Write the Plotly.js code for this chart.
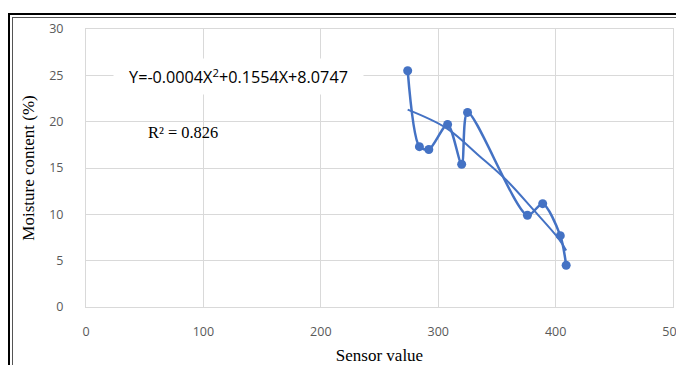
<!DOCTYPE html>
<html>
<head>
<meta charset="utf-8">
<script src="https://cdn.plot.ly/plotly-3.0.1.min.js"></script>
<style>
html,body{margin:0;padding:0;background:#fff;}
#wrap{position:relative;width:676px;height:365px;overflow:hidden;}
#chart{position:absolute;left:0;top:0;width:676px;height:365px;}
.fr{position:absolute;background:#000;}
</style>
</head>
<body>
<div id="wrap">
<div id="chart"></div>
<div class="fr" style="left:8px;top:13px;width:668px;height:2px;"></div>
<div class="fr" style="left:12px;top:17px;width:664px;height:1px;background:#555;"></div>
<div class="fr" style="left:8px;top:13px;width:2px;height:352px;"></div>
<div class="fr" style="left:12px;top:17px;width:1px;height:348px;background:#555;"></div>
</div>
<script>
// Measured data (sensor value vs moisture content %)
var sensorValues = [274, 284, 292, 308, 320, 325, 376, 389, 404, 409];
var moisture = [25.5, 17.3, 17.0, 19.7, 15.4, 21.0, 9.9, 11.15, 7.7, 4.5];

// Polynomial trendline
var trendX = [274, 307, 335, 358, 381, 403, 409];
var trendY = [21.3, 19.3, 16.3, 13.7, 10.5, 7.3, 6.1];

var xTicks = [0, 100, 200, 300, 400, 500];
var yTicks = [0, 5, 10, 15, 20, 25, 30];

var equationText = 'Y=-0.0004X<sup>2</sup>+0.1554X+8.0747';
var r2Text = 'R\u00B2 = 0.826';
var xTitle = 'Sensor value';
var yTitle = 'Moisture content (%)';

var blue = '#4472C4';

var traces = [
  {
    x: sensorValues, y: moisture, type: 'scatter', mode: 'lines+markers',
    line: {color: blue, width: 2.5, shape: 'spline', smoothing: 0.8},
    marker: {color: blue, size: 9},
    hoverinfo: 'skip', showlegend: false
  },
  {
    x: trendX, y: trendY, type: 'scatter', mode: 'lines',
    line: {color: blue, width: 2, shape: 'spline'},
    hoverinfo: 'skip', showlegend: false
  }
];

var tickFont = {family: 'Open Sans, Liberation Sans, sans-serif', size: 12.5, color: '#595959'};
var serif = 'Liberation Serif, Times New Roman, serif';

var L = 86, T = 29, B = 58, W = 676, H = 365;
var plotW = W - L - 3, plotH = H - T - B;
function px2x(px) { return (px - L) / plotW; }
function px2y(py) { return (H - B - py) / plotH; }

var layout = {
  width: W, height: H,
  margin: {l: L, r: 3, t: T, b: B},
  paper_bgcolor: '#fff', plot_bgcolor: '#fff',
  showlegend: false,
  xaxis: {
    range: [0, 500], tickvals: xTicks, ticktext: xTicks.map(String),
    showgrid: true, gridcolor: '#d9d9d9', gridwidth: 1,
    zeroline: false, showline: true, linecolor: '#d9d9d9', mirror: true,
    ticks: '', tickfont: tickFont, ticklabelstandoff: 13, automargin: false,
    ticklabeloverflow: 'allow',
    title: {text: xTitle, font: {family: serif, size: 17, color: '#000'}, standoff: 11}
  },
  yaxis: {
    range: [0, 30], tickvals: yTicks, ticktext: yTicks.map(String),
    showgrid: true, gridcolor: '#d9d9d9', gridwidth: 1,
    zeroline: false, showline: true, linecolor: '#d9d9d9', mirror: true,
    ticks: '', tickfont: tickFont, ticklabelstandoff: 19, automargin: false,
    title: {text: yTitle, font: {family: serif, size: 17, color: '#000'}, standoff: 10}
  },
  annotations: [
    {
      xref: 'paper', yref: 'paper',
      x: px2x(238.5), y: px2y(76.5),
      xanchor: 'center', yanchor: 'middle',
      text: equationText, showarrow: false,
      bgcolor: '#fff', width: 247, height: 33,
      font: {family: 'Open Sans, Liberation Sans, sans-serif', size: 16.2, color: '#000'}
    },
    {
      xref: 'paper', yref: 'paper',
      x: px2x(183), y: px2y(132),
      xanchor: 'center', yanchor: 'middle',
      text: r2Text, showarrow: false,
      font: {family: serif, size: 16.4, color: '#000'}
    }
  ]
};

Plotly.newPlot('chart', traces, layout, {staticPlot: true, displayModeBar: false});
</script>
</body>
</html>
